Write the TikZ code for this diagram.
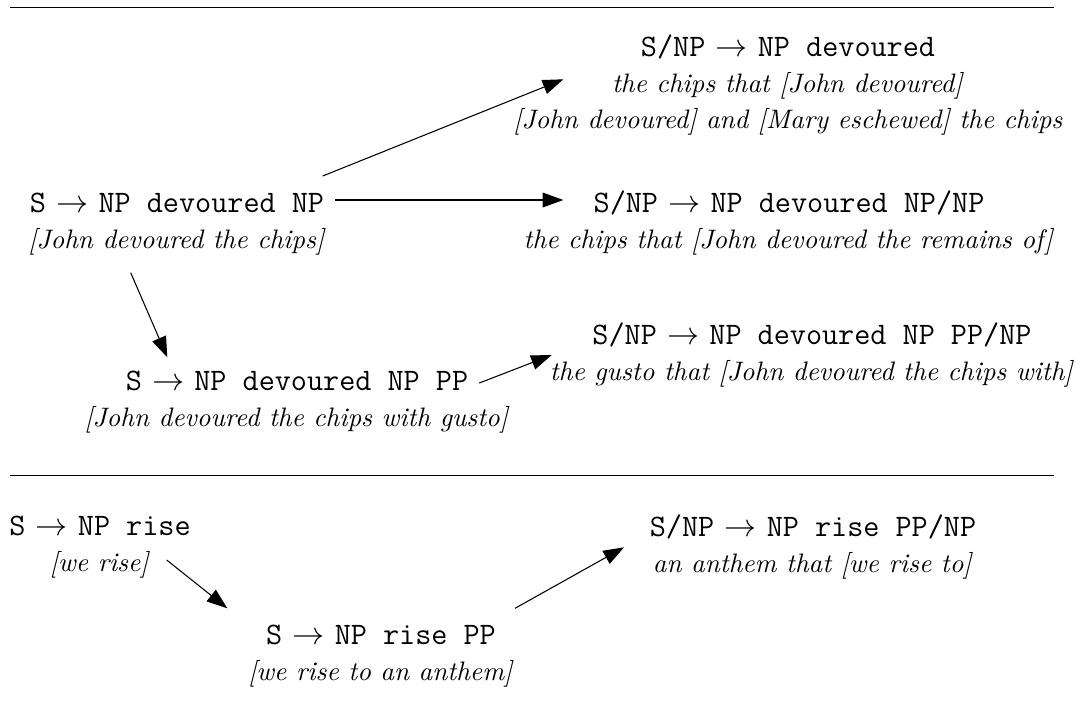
\documentclass[tikz,border=0pt]{standalone}
\usetikzlibrary{arrows.meta,calc}
\tikzset{
  lbl/.style={anchor=base, align=center, inner sep=0pt, font=\fontsize{10pt}{13.3pt}\selectfont},
  arr/.style={-{Triangle[length=7.7pt,width=5.5pt]}, line width=0.4pt},
  rulebar/.style={line width=0.5pt}
}
\newcommand{\rl}[1]{{\fontsize{11.7pt}{14pt}\selectfont #1}}
\newcommand{\tto}{$\rightarrow$}
\begin{document}
\begin{tikzpicture}[x=0.3741pt,y=-0.3741pt]
\useasboundingbox (0,0) rectangle (1082,713);
% rules
\draw[rulebar] (10,7.6) -- (1054,7.6);
\draw[rulebar] (10,475.7) -- (1054,475.7);
% upper group
\node[lbl] (A) at (177,248) {\rl{\texttt{S} \tto{} \texttt{NP devoured NP}}\\ \textit{[John devoured the chips]}};
\node[lbl] (B) at (788,128) {\rl{\texttt{S/NP} \tto{} \texttt{NP devoured}}\\ \textit{the chips that [John devoured]}\\ \textit{[John devoured] and [Mary eschewed] the chips}};
\node[lbl] (C) at (789,248) {\rl{\texttt{S/NP} \tto{} \texttt{NP devoured NP/NP}}\\ \textit{the chips that [John devoured the remains of]}};
\node[lbl] (D) at (297,426) {\rl{\texttt{S} \tto{} \texttt{NP devoured NP PP}}\\ \textit{[John devoured the chips with gusto]}};
\node[lbl] (E) at (812,380) {\rl{\texttt{S/NP} \tto{} \texttt{NP devoured NP PP/NP}}\\ \textit{the gusto that [John devoured the chips with]}};
% lower group
\node[lbl] (F) at (100,571) {\rl{\texttt{S} \tto{} \texttt{NP rise}}\\ \textit{[we rise]}};
\node[lbl] (G) at (381,680) {\rl{\texttt{S} \tto{} \texttt{NP rise PP}}\\ \textit{[we rise to an anthem]}};
\node[lbl] (H) at (813,572) {\rl{\texttt{S/NP} \tto{} \texttt{NP rise PP/NP}}\\ \textit{an anthem that [we rise to]}};
% connectors
\draw[arr] ($(A.base)+(145.7,-72)$) -- ($(B.base)+(-224.7,-48.7)$);
\draw[arr] ($(A.base)+(158,-48)$) -- ($(C.base)+(-225.7,-48)$);
\draw[arr] ($(A.base)+(-46.3,24.7)$) -- ($(D.base)+(-129.7,-68.7)$);
\draw[arr] ($(D.base)+(182.3,-43)$) -- ($(E.base)+(-260.3,-25)$);
\draw[arr] ($(F.base)+(66.7,-11)$) -- ($(G.base)+(-153.7,-71.7)$);
\draw[arr] ($(G.base)+(134,-71.7)$) -- ($(H.base)+(-189,-24.7)$);
\end{tikzpicture}
\end{document}
